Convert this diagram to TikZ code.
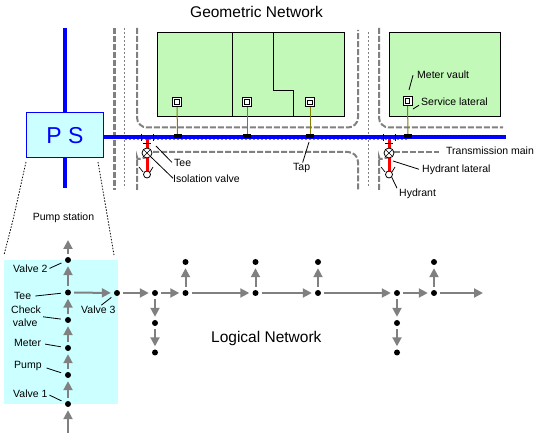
\documentclass[tikz,border=0pt]{standalone}
\usepackage{fontspec}
\setmainfont{Liberation Sans}
\usepackage{xcolor}
\usetikzlibrary{positioning, arrows.meta}
\definecolor{parcelgreen}{HTML}{C2F8B8}
\definecolor{stationcyan}{HTML}{CCFFFF}
\definecolor{roadgray}{HTML}{808080}
\definecolor{mainblue}{HTML}{0000FF}
\definecolor{lateralolive}{HTML}{808000}
\tikzset{
    roadline/.style={draw=roadgray, line width=2pt, dash pattern=on 6pt off 2pt, rounded corners=10pt},
    centerline/.style={draw=roadgray, line width=1pt, dash pattern=on 2pt off 2pt},
    parcel/.style={draw=black, line width=1pt, fill=parcelgreen},
    vault/.style={draw=black, line width=1pt, fill=white, minimum size=9pt, inner sep=0pt},
    tapmark/.style={fill=black, minimum width=8pt, minimum height=4pt, inner sep=0pt},
    lbl/.style={inner sep=0pt, anchor=base west, font=\fontsize{10.5}{12}\selectfont},
    title/.style={inner sep=0pt, anchor=base west, font=\fontsize{15.5}{18}\selectfont},
    leader/.style={draw=black, line width=0.8pt},
    junction/.style={circle, fill=black, minimum size=6pt, inner sep=0pt},
    flow/.style={draw=roadgray, line width=2pt, -{Triangle[length=9pt, width=9pt]}, shorten >=3pt, shorten <=3pt}
}
\begin{document}
\begin{tikzpicture}[x=1pt, y=-1pt]
    \useasboundingbox (0,0) rectangle (544,438);

    \draw[line width=4pt, mainblue] (65,28) -- (65,188);
    \draw[roadline, line width=3pt, rounded corners=0pt] (114.5,28) -- (114.5,190);
    \draw[centerline] (124.5,28) -- (124.5,188);
    \draw[centerline] (368.7,32) -- (368.7,187);
    \draw[centerline] (125,140) -- (407,140);
    \draw[roadline] (137,28) -- (137,127.5) -- (358,127.5) -- (358,30);
    \draw[roadline] (137,190) -- (137,167) .. controls (137,161) and (140,158) .. (146,157.5);
    \draw[roadline] (153,152) -- (358,152) -- (358,190);
    \draw[roadline] (379,28) -- (379,127.5) -- (503,127.5);
    \draw[roadline] (379,190) -- (379,167) .. controls (379,161) and (382,158) .. (388,157.5);
    \draw[roadline] (394,152) -- (439,152);

    \draw[parcel] (157.5,32.5) rectangle (344.5,116.5);
    \draw[parcel] (389.5,32.5) rectangle (500.5,117);
    \draw[black, line width=1pt] (232.5,32.5) -- (232.5,116.5);
    \draw[black, line width=1pt] (273,32.5) -- (273,91) -- (293.5,91) -- (293.5,116.5);

    \draw[line width=4pt, mainblue] (103,137) -- (506,137);

    \node[tapmark] (tap1) at (177.5,136) {};
    \node[tapmark] (tap2) at (247,136) {};
    \node[tapmark] (tap3) at (310,136) {};
    \node[tapmark] (tap4) at (408,136) {};
    \node[vault] (vault1) at (177,102) {};
    \node[vault] (vault2) at (247,102) {};
    \node[vault] (vault3) at (310,102.5) {};
    \node[vault] (vault4) at (407.5,101) {};
    \foreach \n in {1,2,3,4} {
        \draw[lateralolive, line width=1pt] (vault\n) -- (tap\n);
        \node[draw=black, line width=1pt, minimum size=4.5pt, inner sep=0pt] at (vault\n) {};
    }

    \node[draw=mainblue, line width=1pt, fill=stationcyan, minimum width=77pt, minimum height=45pt, inner sep=0pt, text=mainblue, font=\fontsize{23}{26}\selectfont] (ps) at (65,135.5) {P S};

    \foreach \x/\n in {147/a, 389/b} {
        \draw[red, line width=3pt] (\x,139) -- (\x,172);
        \node[circle, draw=black, line width=0.8pt, fill=white, minimum size=10pt, inner sep=0pt] (valve\n) at (\x,153) {};
        \draw[black, line width=0.6pt] (valve\n.north east) -- (valve\n.south west);
        \draw[black, line width=0.6pt] (valve\n.north west) -- (valve\n.south east);
        \node[circle, draw=black, line width=0.8pt, fill=white, minimum size=7pt, inner sep=0pt] (hydrant\n) at (\x,174.5) {};
        \draw[black, line width=0.8pt] (\x-6,134) -- (\x-6,141);
        \draw[black, line width=0.8pt] (\x+6,134) -- (\x+6,141);
        \draw[black, line width=0.8pt] (\x-4,143) -- (\x+4,143);
        \draw[black, line width=0.7pt] (\x-8,167) -- (\x-4,172);
        \draw[black, line width=0.7pt] (\x+6,167) -- (\x+3,172);
    }

    \node[title] (geomtitle) at (190,18) {Geometric Network};
    \node[title] (logictitle) at (211,343) {Logical Network};

    \node[lbl] (teelbl) at (174,167) {Tee};
    \node[lbl] (isolbl) at (173,183) {Isolation valve};
    \node[lbl] (taplbl) at (293,171) {Tap};
    \node[lbl] (mainlbl) at (446,155) {Transmission main};
    \node[lbl] (hlatlbl) at (422,173) {Hydrant lateral};
    \node[lbl] (hydlbl) at (399,197) {Hydrant};
    \node[lbl] (vaultlbl) at (417,79) {Meter vault};
    \node[lbl] (slatlbl) at (421,106) {Service lateral};
    \node[lbl, anchor=base] (pumplbl) at (63.5,221) {Pump station};

    \coordinate (teeend) at (156,146);
    \coordinate (tapend) at (309,142);
    \coordinate (vaultend) at (409,90);
    \coordinate (slatend) at (413,109);
    \coordinate (hlatend) at (393,161);
    \draw[leader] (teelbl.west) ++(-2,-1) -- (teeend);
    \draw[leader] (isolbl.west) ++(0,-1) -- (valvea.south east);
    \draw[leader] (taplbl.north) ++(1,-1) -- (tapend);
    \draw[leader] (hlatlbl.west) ++(-3,-1) -- (hlatend);
    \draw[leader] (hydlbl.north west) ++(-2,-1) -- (hydrantb.south east);
    \draw[leader] (vaultlbl.west) ++(-4,0) -- (vaultend);
    \draw[leader] (slatlbl.west) ++(-2,3) -- (slatend);

    \draw[black, line width=0.8pt, dash pattern=on 1.5pt off 1.5pt] (26,162) -- (13,220) -- (4,255);
    \draw[black, line width=0.8pt, dash pattern=on 1.5pt off 1.5pt] (98,162) -- (108,220) -- (114,255);

    \fill[stationcyan] (4,260) rectangle (118,404);

    \node[junction] (valve2) at (68,260) {};
    \node[junction] (tee) at (68,292.5) {};
    \node[junction] (check) at (68,320) {};
    \node[junction] (meter) at (68,348) {};
    \node[junction] (pump) at (68,375) {};
    \node[junction] (valve1) at (68,404) {};
    \node[junction] (valve3) at (117,293) {};
    \node[junction] (n1) at (155,293) {};
    \node[junction] (n1a) at (155,323) {};
    \node[junction] (n1b) at (155,352.5) {};
    \node[junction] (n2) at (185.5,293) {};
    \node[junction] (n2a) at (185.5,262) {};
    \node[junction] (n3) at (255.5,293) {};
    \node[junction] (n3a) at (255.5,262) {};
    \node[junction] (n4) at (318,293) {};
    \node[junction] (n4a) at (318,262) {};
    \node[junction] (n5) at (397,293) {};
    \node[junction] (n5a) at (397,323) {};
    \node[junction] (n5b) at (397,352.5) {};
    \node[junction] (n6) at (434,293) {};
    \node[junction] (n6a) at (434,262) {};
    \coordinate (inlet) at (68,436);
    \coordinate (outtop) at (68,237);
    \coordinate (outend) at (486,293);

    \foreach \a/\b in {inlet/valve1, valve1/pump, pump/meter, meter/check, check/tee, tee/valve2, valve2/outtop, tee/valve3, valve3/n1, n1/n2, n1/n1a, n1a/n1b, n2/n2a, n2/n3, n3/n3a, n3/n4, n4/n4a, n4/n5, n5/n5a, n5a/n5b, n5/n6, n6/n6a, n6/outend} {
        \draw[flow] (\a) -- (\b);
    }

    \node[lbl] (v2lbl) at (13,273) {Valve 2};
    \node[lbl] (teelbl2) at (14,300) {Tee};
    \node[lbl, align=left, anchor=north west] (checklbl) at (11,306) {Check\\[1pt]\,valve};
    \node[lbl] (meterlbl) at (14,347) {Meter};
    \node[lbl] (pumplbl2) at (14,369) {Pump};
    \node[lbl] (v1lbl) at (13,398) {Valve 1};
    \node[lbl] (v3lbl) at (81,314) {Valve 3};
    \draw[leader, shorten <=2pt, shorten >=4pt] (v2lbl.east) -- (valve2);
    \draw[leader, shorten <=4pt, shorten >=4pt] (teelbl2.east) -- (tee);
    \draw[leader, shorten <=2pt, shorten >=4pt] (checklbl.east) -- (check);
    \draw[leader, shorten <=4pt, shorten >=4pt] (meterlbl.east) -- (meter);
    \draw[leader, shorten <=5pt, shorten >=4pt] (pumplbl2.east) -- (pump);
    \draw[leader, shorten <=2pt, shorten >=4pt] (v1lbl.east) -- (valve1);
    \draw[leader, shorten >=4pt] (v3lbl.north) ++(3,-1) -- (valve3);
\end{tikzpicture}
\end{document}
